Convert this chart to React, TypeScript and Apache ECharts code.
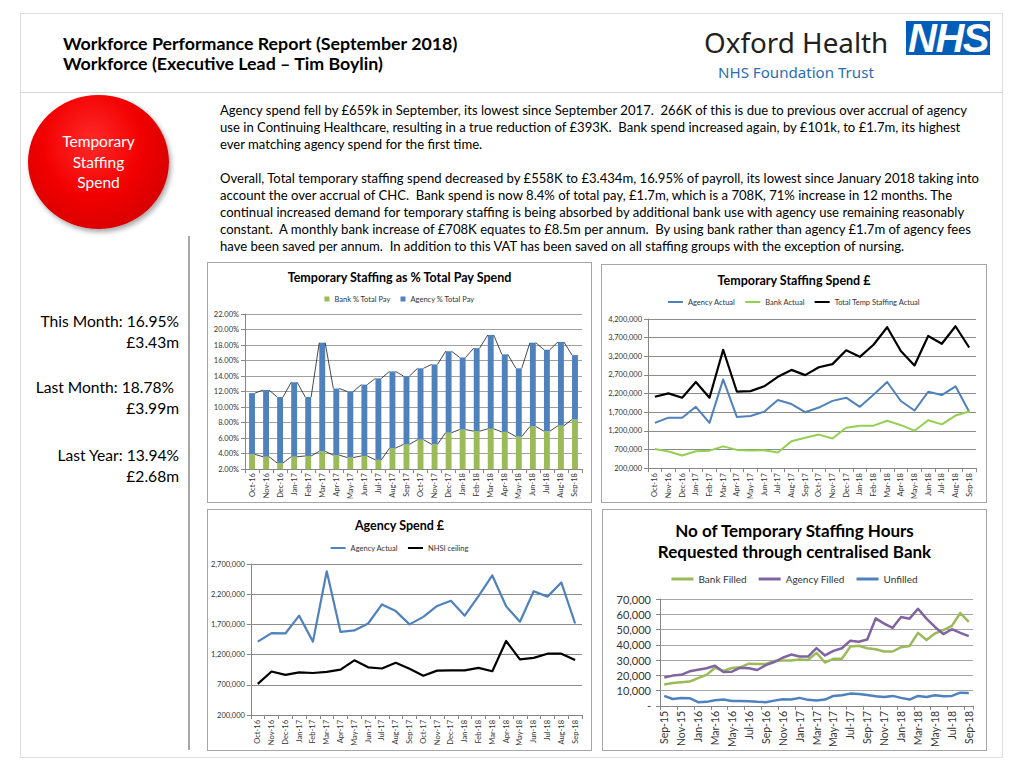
import React, { useEffect, useRef } from "react";
import * as echarts from "echarts";

const FONT = "Lato, 'Open Sans', sans-serif";
const AXIS_GREY = "#868686";
const GRID_GREY = "#8c8c8c";
const LABEL = "#333333";

// ---------- data ----------
const months24 = ["Oct-16","Nov-16","Dec-16","Jan-17","Feb-17","Mar-17","Apr-17","May-17","Jun-17","Jul-17","Aug-17","Sep-17","Oct-17","Nov-17","Dec-17","Jan-18","Feb-18","Mar-18","Apr-18","May-18","Jun-18","Jul-18","Aug-18","Sep-18"];

const bankPct = [3.9, 3.6, 2.8, 3.6, 3.7, 4.3, 3.8, 3.5, 3.7, 3.2, 4.7, 5.2, 5.8, 5.2, 6.7, 7.1, 6.9, 7.2, 6.8, 6.2, 7.5, 6.9, 7.6, 8.4];
const agencyPct = [7.9, 8.6, 8.5, 9.6, 7.6, 14.0, 8.6, 8.5, 9.2, 10.5, 9.9, 8.8, 9.2, 10.3, 10.5, 9.3, 10.7, 12.1, 10.0, 8.8, 10.8, 10.5, 10.8, 8.3];

const agencyActual = [1415000, 1555000, 1550000, 1845000, 1415000, 2580000, 1575000, 1600000, 1715000, 2030000, 1920000, 1700000, 1825000, 2005000, 2090000, 1845000, 2170000, 2510000, 2000000, 1745000, 2250000, 2160000, 2395000, 1715000];
const bankActual = [715000, 645000, 540000, 655000, 670000, 785000, 690000, 675000, 680000, 620000, 920000, 1015000, 1100000, 995000, 1285000, 1340000, 1340000, 1470000, 1355000, 1205000, 1485000, 1375000, 1610000, 1720000];
const totalActual = [2115000, 2205000, 2090000, 2510000, 2090000, 3375000, 2255000, 2265000, 2395000, 2650000, 2835000, 2695000, 2905000, 2990000, 3360000, 3185000, 3510000, 3980000, 3340000, 2955000, 3745000, 3535000, 4005000, 3435000];
const nhsiCeiling = [715000, 920000, 865000, 905000, 895000, 915000, 950000, 1105000, 990000, 970000, 1065000, 965000, 850000, 935000, 940000, 940000, 980000, 925000, 1425000, 1120000, 1145000, 1215000, 1215000, 1110000];

const months37 = ["Sep-15","Oct-15","Nov-15","Dec-15","Jan-16","Feb-16","Mar-16","Apr-16","May-16","Jun-16","Jul-16","Aug-16","Sep-16","Oct-16","Nov-16","Dec-16","Jan-17","Feb-17","Mar-17","Apr-17","May-17","Jun-17","Jul-17","Aug-17","Sep-17","Oct-17","Nov-17","Dec-17","Jan-18","Feb-18","Mar-18","Apr-18","May-18","Jun-18","Jul-18","Aug-18","Sep-18"];
const bankFilled = [14000, 14900, 15500, 15900, 18100, 20300, 25000, 22800, 24800, 25200, 27600, 27400, 27400, 29300, 29700, 29700, 30400, 30000, 34700, 28400, 30800, 30800, 38800, 39400, 37700, 37100, 35600, 35600, 38400, 39200, 47800, 43100, 47400, 49600, 52400, 60800, 55000];
const agencyFilled = [18500, 19800, 20300, 22600, 23700, 24600, 26300, 22200, 22400, 25000, 24600, 23500, 26700, 28700, 31500, 33600, 32300, 32300, 37800, 33000, 36000, 37700, 42700, 42000, 43500, 57300, 53900, 51100, 58200, 57100, 63600, 57100, 51700, 47000, 50200, 47800, 45700];
const unfilled = [6500, 4500, 5200, 5000, 2400, 2600, 3700, 4100, 3200, 3200, 3000, 2600, 2400, 3400, 4300, 4100, 5200, 3900, 3500, 4100, 6500, 6900, 8000, 7800, 7100, 6300, 5800, 6500, 5200, 4100, 6500, 5800, 6900, 6300, 6500, 8600, 8400];

const paragraph1 = [
  "Agency spend fell by £659k in September, its lowest since September 2017.  266K of this is due to previous over accrual of agency",
  "use in Continuing Healthcare, resulting in a true reduction of £393K.  Bank spend increased again, by £101k, to £1.7m, its highest",
  "ever matching agency spend for the first time.",
];
const paragraph2 = [
  "Overall, Total temporary staffing spend decreased by £558K to £3.434m, 16.95% of payroll, its lowest since January 2018 taking into",
  "account the over accrual of CHC.  Bank spend is now 8.4% of total pay, £1.7m, which is a 708K, 71% increase in 12 months. The",
  "continual increased demand for temporary staffing is being absorbed by additional bank use with agency use remaining reasonably",
  "constant.  A monthly bank increase of £708K equates to £8.5m per annum.  By using bank rather than agency £1.7m of agency fees",
  "have been saved per annum.  In addition to this VAT has been saved on all staffing groups with the exception of nursing.",
];

const stats = [
  { text: "This Month: 16.95%", y: 321, right: 179 },
  { text: "£3.43m", y: 342, right: 179 },
  { text: "Last Month: 18.78%", y: 387, right: 174 },
  { text: "£3.99m", y: 408, right: 179 },
  { text: "Last Year: 13.94%", y: 455, right: 179 },
  { text: "£2.68m", y: 476, right: 179 },
];

// ---------- helpers ----------
const fmtThousands = (v: number) => v.toLocaleString("en-US");

function catAxis(data: string[], fontSize: number, extra: any = {}) {
  return {
    type: "category",
    data,
    boundaryGap: true,
    axisLine: { show: true, lineStyle: { color: AXIS_GREY, width: 1 } },
    axisTick: { show: true, length: 4, lineStyle: { color: AXIS_GREY }, ...(extra.tick || {}) },
    axisLabel: { rotate: 90, fontSize, color: LABEL, interval: 0, margin: 5, fontFamily: FONT, ...(extra.label || {}) },
  };
}

function valAxis(min: number, max: number, interval: number, fontSize: number, formatter: any, gridColor = GRID_GREY, margin = 6) {
  return {
    type: "value",
    min,
    max,
    interval,
    axisLine: { show: true, lineStyle: { color: AXIS_GREY, width: 1 } },
    axisTick: { show: true, length: 4, lineStyle: { color: AXIS_GREY } },
    splitLine: { show: true, lineStyle: { color: gridColor, width: 1 } },
    axisLabel: { fontSize, color: LABEL, formatter, margin, fontFamily: FONT },
  };
}

function lineSeries(name: string, data: number[], color: string, width: number) {
  return {
    name,
    type: "line",
    data,
    symbol: "none",
    lineStyle: { color, width, join: "round" },
    itemStyle: { color },
  };
}

function seriesLines(values: number[], barRatio: number) {
  const d = values.slice(0, -1).map((v, i) => [i, v, values[i + 1]]);
  return {
    type: "custom",
    silent: true,
    data: d,
    encode: { x: 0, y: 1 },
    z: 5,
    renderItem: (params: any, api: any) => {
      const i = api.value(0);
      const p1 = api.coord([i, api.value(1)]);
      const p2 = api.coord([i + 1, api.value(2)]);
      const hw = (api.size([1, 0])[0] * barRatio) / 2;
      return {
        type: "line",
        shape: { x1: p1[0] + hw, y1: p1[1], x2: p2[0] - hw, y2: p2[1] },
        style: { stroke: "#1a1a1a", lineWidth: 0.8 },
      };
    },
  };
}

const titleStyle = (size: number) => ({ fontFamily: FONT, fontSize: size, fontWeight: "bold", color: "#000" });

// ---------- options ----------
const totalsPct = bankPct.map((b, i) => Math.round((b + agencyPct[i]) * 100) / 100);

const optionA = {
  animation: false,
  textStyle: { fontFamily: FONT },
  title: { text: "Temporary Staffing as % Total Pay Spend", left: "center", top: 3, textStyle: titleStyle(12.5) },
  legend: {
    top: 27, left: "center", itemWidth: 5, itemHeight: 5, itemGap: 10,
    textStyle: { fontSize: 7.5, color: LABEL, fontFamily: FONT },
    data: [{ name: "Bank % Total Pay", icon: "rect" }, { name: "Agency % Total Pay", icon: "rect" }],
  },
  grid: { left: 37, right: 9, top: 51, bottom: 32 },
  xAxis: catAxis(months24, 7.5, { label: { margin: 4 } }),
  yAxis: valAxis(2, 22, 2, 7.5, (v: number) => v.toFixed(2) + "%", "#a0a0a0"),
  series: [
    { name: "Bank % Total Pay", type: "bar", stack: "pct", data: bankPct, barWidth: "42%", itemStyle: { color: "#9bbb59" } },
    { name: "Agency % Total Pay", type: "bar", stack: "pct", data: agencyPct, barWidth: "42%", itemStyle: { color: "#4f81bd" } },
    seriesLines(totalsPct, 0.42),
    seriesLines(bankPct, 0.42),
  ],
};

const optionB = {
  animation: false,
  textStyle: { fontFamily: FONT },
  title: { text: "Temporary Staffing Spend £", left: "center", top: 4, textStyle: titleStyle(12.5) },
  legend: {
    top: 28, left: "center", icon: "rect", itemWidth: 15, itemHeight: 2, itemGap: 10,
    textStyle: { fontSize: 7.5, color: LABEL, fontFamily: FONT },
    data: ["Agency Actual", "Bank Actual", "Total Temp Staffing Actual"],
  },
  grid: { left: 46, right: 10, top: 54, bottom: 32 },
  xAxis: catAxis(months24, 7.5),
  yAxis: valAxis(200000, 4200000, 500000, 7.5, fmtThousands),
  series: [
    lineSeries("Agency Actual", agencyActual, "#4f81bd", 2),
    lineSeries("Bank Actual", bankActual, "#92d050", 2),
    lineSeries("Total Temp Staffing Actual", totalActual, "#000000", 2.2),
  ],
};

const optionC = {
  animation: false,
  textStyle: { fontFamily: FONT },
  title: { text: "Agency Spend £", left: "center", top: 4, textStyle: titleStyle(12.5) },
  legend: {
    top: 29, left: "center", icon: "rect", itemWidth: 15, itemHeight: 2, itemGap: 10,
    textStyle: { fontSize: 7.5, color: LABEL, fontFamily: FONT },
    data: ["Agency Actual", "NHSI ceiling"],
  },
  grid: { left: 41, right: 9, top: 54, bottom: 35 },
  xAxis: catAxis(months24, 7.5),
  yAxis: valAxis(200000, 2700000, 500000, 7.5, fmtThousands),
  series: [
    lineSeries("Agency Actual", agencyActual, "#4f81bd", 2.2),
    lineSeries("NHSI ceiling", nhsiCeiling, "#000000", 2.2),
  ],
};

const optionD = {
  animation: false,
  textStyle: { fontFamily: FONT },
  title: {
    text: "No of Temporary Staffing Hours\nRequested through centralised Bank", left: "center", top: 10, padding: 0,
    textStyle: { ...titleStyle(17), lineHeight: 21 },
  },
  legend: {
    top: 59, left: "center", icon: "rect", itemWidth: 22, itemHeight: 3, itemGap: 12,
    textStyle: { fontSize: 10, color: LABEL, fontFamily: FONT },
    data: ["Bank Filled", "Agency Filled", "Unfilled"],
  },
  grid: { left: 57, right: 13, top: 89, bottom: 44 },
  xAxis: catAxis(months37, 10.5, { label: { interval: 1, margin: 5 }, tick: { interval: 1 } }),
  yAxis: valAxis(0, 70000, 10000, 11, (v: number) => (v === 0 ? "-" : fmtThousands(v)), "#a6a6a6", 9),
  series: [
    lineSeries("Bank Filled", bankFilled, "#9bbb59", 2.5),
    lineSeries("Agency Filled", agencyFilled, "#8064a2", 2.5),
    lineSeries("Unfilled", unfilled, "#4f81bd", 2.5),
  ],
};

// ---------- components ----------
function ChartBox({ option, left, top, width, height }: any) {
  const ref = useRef<HTMLDivElement>(null);
  useEffect(() => {
    const chart = echarts.init(ref.current as HTMLDivElement, null, { renderer: "svg" });
    chart.setOption(option);
    return () => chart.dispose();
  }, []);
  return (
    <div
      style={{
        position: "absolute", left, top, width: width - 2, height: height - 2,
        border: "1px solid #a6a6a6", background: "#fff",
      }}
    >
      <div ref={ref} style={{ width: width - 2, height: height - 2 }} />
    </div>
  );
}

function Lines({ lines, left, top, lh, size }: any) {
  return (
    <>
      {lines.map((t: string, i: number) => (
        <div
          key={i}
          style={{
            position: "absolute", left, top: top + i * lh - lh / 2, height: lh, lineHeight: lh + "px",
            fontSize: size, whiteSpace: "pre", color: "#000", fontFamily: FONT,
          }}
        >
          {t}
        </div>
      ))}
    </>
  );
}

export default function App() {
  return (
    <div style={{ position: "absolute", left: 0, top: 0, width: 1024, height: 768, background: "#fff", overflow: "hidden", fontFamily: FONT }}>
      {/* frame */}
      <div style={{ position: "absolute", left: 20, top: 13, width: 983, height: 745, border: "1px solid #dedede", boxSizing: "border-box" }} />
      <div style={{ position: "absolute", left: 20, top: 92, width: 983, height: 1, background: "#d6d6d6" }} />

      {/* header */}
      <div style={{ position: "absolute", left: 63, top: 32, fontSize: 17.8, fontWeight: 700, lineHeight: "22px", color: "#000", whiteSpace: "pre" }}>
        Workforce Performance Report (September 2018)
      </div>
      <div style={{ position: "absolute", left: 63, top: 52, fontSize: 17.8, fontWeight: 700, lineHeight: "22px", color: "#000", whiteSpace: "pre" }}>
        Workforce (Executive Lead – Tim Boylin)
      </div>

      {/* logo */}
      <div style={{ position: "absolute", left: 704, top: 23, fontSize: 27.8, lineHeight: "38px", color: "#231f20", fontFamily: "'Noto Sans', 'Open Sans', sans-serif", whiteSpace: "pre" }}>
        Oxford Health
      </div>
      <div style={{ position: "absolute", left: 718, top: 61, fontSize: 15.1, lineHeight: "22px", color: "#2a6db3", fontFamily: "'Noto Sans', 'Open Sans', sans-serif", whiteSpace: "pre" }}>
        NHS Foundation Trust
      </div>
      <div style={{ position: "absolute", left: 906, top: 21, width: 84, height: 34, background: "#005eb8", color: "#fff", display: "flex", alignItems: "center", justifyContent: "center", fontFamily: "'Liberation Sans', Arial, sans-serif", fontWeight: 900, fontStyle: "italic", fontSize: 40, letterSpacing: -1.5, lineHeight: "34px" }}>
        NHS
      </div>

      {/* red circle */}
      <div style={{
        position: "absolute", left: 28, top: 95, width: 141, height: 134, borderRadius: "50%",
        background: "radial-gradient(ellipse at 45% 35%, #ff2a2a 0%, #f20000 45%, #d00000 85%, #b00000 100%)",
        boxShadow: "2px 3px 5px rgba(0,0,0,0.35)",
        display: "flex", alignItems: "center", justifyContent: "center", flexDirection: "column",
        color: "#fff", fontSize: 15.5, lineHeight: "20.5px", textAlign: "center",
      }}>
        <div>Temporary</div>
        <div>Staffing</div>
        <div>Spend</div>
      </div>

      {/* paragraphs */}
      <Lines lines={paragraph1} left={220} top={110} lh={17} size={13.1} />
      <Lines lines={paragraph2} left={220} top={178} lh={17} size={13.1} />

      {/* vertical divider */}
      <div style={{ position: "absolute", left: 188, top: 236, width: 2, height: 514, background: "#a6a6a6" }} />

      {/* stats */}
      {stats.map((s, i) => (
        <div key={i} style={{ position: "absolute", left: 0, width: s.right, top: s.y - 11, height: 22, lineHeight: "22px", textAlign: "right", fontSize: 15.6, color: "#000", whiteSpace: "pre" }}>
          {s.text}
        </div>
      ))}

      {/* charts */}
      <ChartBox option={optionA} left={207} top={262} width={385} height={241} />
      <ChartBox option={optionB} left={601} top={264} width={386} height={239} />
      <ChartBox option={optionC} left={207} top={509} width={385} height={242} />
      <ChartBox option={optionD} left={602} top={509} width={385} height={242} />
    </div>
  );
}
